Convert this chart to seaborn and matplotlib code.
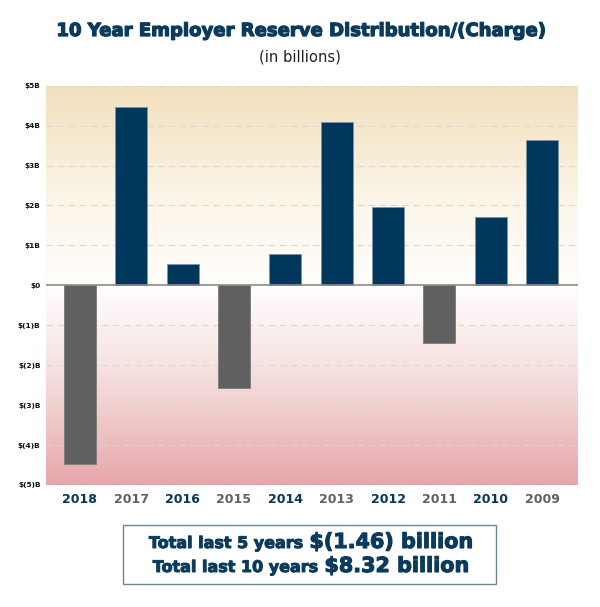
import numpy as np
import pandas as pd
import matplotlib
matplotlib.use("Agg")
import matplotlib.pyplot as plt
import matplotlib.patheffects as pe
import seaborn as sns
from matplotlib.patches import Rectangle
from matplotlib.offsetbox import TextArea, HPacker, AnnotationBbox
from matplotlib.colors import LinearSegmentedColormap

years = ["2018", "2017", "2016", "2015", "2014", "2013", "2012", "2011", "2010", "2009"]
values = [-4.47, 4.47, 0.53, -2.57, 0.79, 4.08, 1.96, -1.44, 1.71, 3.64]
ytick_vals = [5, 4, 3, 2, 1, 0, -1, -2, -3, -4, -5]
ytick_labels = ["$5B", "$4B", "$3B", "$2B", "$1B", "$0", "$(1)B", "$(2)B", "$(3)B", "$(4)B", "$(5)B"]
title = "10 Year Employer Reserve Distribution/(Charge)"
subtitle = "(in billions)"
total5_label, total5_value = "Total last 5 years ", "$(1.46) billion"
total10_label, total10_value = "Total last 10 years ", "$8.32 billion"

NAVY = "#00375c"
GRAY = "#606060"
TEXT_NAVY = "#0a3a5c"

sns.set_theme(style="white")
plt.rcParams['font.family'] = ['DejaVu Sans']

df = pd.DataFrame({"year": years, "value": values})
df["sign"] = np.where(df["value"] >= 0, "pos", "neg")

fig = plt.figure(figsize=(6.0, 6.07), dpi=100)
ax = fig.add_axes([46/600, 1-485/607, 532/600, (485-85.7)/607])

# gradient background
cmap = LinearSegmentedColormap.from_list(
    "bg", [(0.0, "#e7a6ac"), (0.1, "#ecbcbd"), (0.3, "#f6e3e2"), (0.5, "#fffefe"),
           (0.5, "#fffefc"), (0.7, "#fcf6ea"), (0.9, "#f5e7cb"), (1.0, "#f2e1bf")])
grad = np.linspace(0, 1, 256).reshape(-1, 1)
ax.imshow(grad, aspect="auto", cmap=cmap, origin="lower",
          extent=[-0.66, 9.7, -5, 5], zorder=0)

sns.barplot(data=df, x="year", y="value", hue="sign", order=years,
            palette={"pos": NAVY, "neg": GRAY}, dodge=False, legend=False,
            saturation=1, width=0.62, ax=ax, zorder=3, linewidth=0.6,
            edgecolor="#7d93a8")
for p in ax.patches:
    if p.get_height() < 0:
        p.set_edgecolor("#7a7a7a")

ax.set_xlim(-0.66, 9.7)
ax.set_ylim(-5, 5)
ax.set_yticks(ytick_vals)
ax.set_yticklabels(ytick_labels, fontsize=5.3, fontweight="bold", color="#111111")
for v in ytick_vals:
    if v == 0:
        ax.axhline(0, color="#8a8a8a", lw=1.2, zorder=4)
    elif v == -5:
        ax.axhline(v, color="#9a9a9a", lw=1.0, ls=(0, (5, 3)), zorder=2)
    else:
        ax.axhline(v, color="#dcd6cc", lw=0.8, ls=(0, (6, 4)), zorder=1)
ax.set_xlabel("")
ax.set_ylabel("")
ax.tick_params(axis="both", length=0, pad=4)
ax.tick_params(axis="x", pad=6)
for i, lab in enumerate(ax.get_xticklabels()):
    lab.set_fontsize(9)
    lab.set_fontweight("bold")
    lab.set_color(NAVY if i % 2 == 0 else GRAY)
for s in ax.spines.values():
    s.set_visible(False)

heavy = [pe.withStroke(linewidth=0.9, foreground=TEXT_NAVY)]
fig.text(0.5, 1-31/607, title, ha="center", va="center", fontsize=13.0,
         fontweight="bold", color=TEXT_NAVY, path_effects=heavy)
fig.text(0.5, 1-57/607, subtitle, ha="center", va="center", fontsize=10.6,
         color="#222222")

# totals box
box = Rectangle((123/600, 1-584/607), (496-123)/600, (584-525)/607,
                transform=fig.transFigure, facecolor="white",
                edgecolor="#6f8596", lw=1.0)
fig.patches.append(box)

def line(lbl, val, y):
    hp = HPacker(children=[
        TextArea(lbl, textprops=dict(fontsize=11.5, fontweight="bold", color=TEXT_NAVY,
                                     path_effects=[pe.withStroke(linewidth=0.7, foreground=TEXT_NAVY)])),
        TextArea(val, textprops=dict(fontsize=14.9, fontweight="bold", color=TEXT_NAVY,
                                     path_effects=[pe.withStroke(linewidth=0.8, foreground=TEXT_NAVY)]))],
        align="baseline", pad=0, sep=0)
    ab = AnnotationBbox(hp, (0.518, y), xycoords="figure fraction",
                        frameon=False, box_alignment=(0.5, 0.5), pad=0)
    fig.add_artist(ab)

line(total5_label, total5_value, 1-542/607)
line(total10_label, total10_value, 1-566/607)

fig.savefig("out.png", dpi=100)
